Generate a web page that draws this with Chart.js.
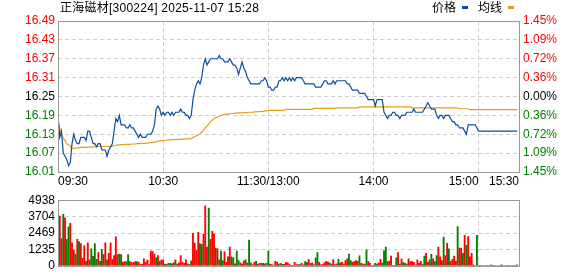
<!DOCTYPE html>
<html>
<head>
<meta charset="utf-8">
<script src="https://cdn.jsdelivr.net/npm/chart.js@4.4.1/dist/chart.umd.min.js"></script>
<style>
html, body { margin: 0; padding: 0; background: #fff; }
#wrap { position: relative; width: 578px; height: 276px; overflow: hidden; }
canvas { position: absolute; left: 0; }
#price { top: 0; }
#vol { top: 190px; }
</style>
</head>
<body>
<div id="wrap">
  <canvas id="price" width="578" height="190"></canvas>
  <canvas id="vol" width="578" height="86"></canvas>
</div>
<script>
const stockName = '正海磁材[300224]';
const stamp = '2025-11-07 15:28';
const prevClose = 16.25;
const priceTicks = [16.49, 16.43, 16.37, 16.31, 16.25, 16.19, 16.13, 16.07, 16.01];
const pctTicks = ['1.45%', '1.09%', '0.72%', '0.36%', '0.00%', '0.36%', '0.72%', '1.09%', '1.45%'];
const volTicks = [4938, 3704, 2469, 1235, 0];
// minute index: 0 = 09:30, 120 = 11:30/13:00, 240 = 15:00, then the after-hours session
const timeTicks = [0, 60, 120, 180, 240, 263];
const timeLabels = ['09:30', '10:30', '11:30/13:00', '14:00', '15:00', '15:30'];

const dayPrice = [
  16.19,16.12,16.14,16.07,16.06,16.05,16.03,16.04,16.10,16.13,
  16.11,16.10,16.10,16.12,16.12,16.12,16.11,16.14,16.14,16.12,
  16.10,16.10,16.09,16.10,16.10,16.08,16.08,16.08,16.06,16.08,
  16.09,16.10,16.14,16.18,16.17,16.19,16.16,16.16,16.16,16.15,
  16.15,16.16,16.15,16.15,16.14,16.13,16.12,16.13,16.12,16.12,
  16.12,16.13,16.13,16.13,16.14,16.16,16.21,16.22,16.21,16.19,
  16.20,16.19,16.20,16.20,16.19,16.20,16.19,16.20,16.20,16.20,
  16.21,16.20,16.20,16.19,16.19,16.18,16.19,16.24,16.27,16.29,
  16.30,16.29,16.31,16.35,16.37,16.35,16.36,16.37,16.37,16.37,
  16.37,16.37,16.38,16.37,16.37,16.36,16.36,16.36,16.37,16.36,
  16.35,16.35,16.34,16.32,16.34,16.36,16.34,16.33,16.31,16.30,
  16.29,16.29,16.29,16.29,16.29,16.29,16.30,16.30,16.31,16.30,
  16.28,16.28,16.27,16.27,16.28,16.28,16.30,16.30,16.31,16.30,
  16.31,16.30,16.31,16.30,16.31,16.30,16.31,16.31,16.31,16.31,
  16.30,16.29,16.29,16.29,16.29,16.29,16.29,16.28,16.28,16.28,
  16.28,16.29,16.30,16.30,16.29,16.29,16.29,16.30,16.29,16.30,
  16.30,16.30,16.30,16.30,16.30,16.29,16.29,16.28,16.27,16.27,
  16.27,16.27,16.26,16.26,16.26,16.26,16.25,16.24,16.24,16.24,
  16.24,16.22,16.24,16.24,16.24,16.24,16.20,16.19,16.18,16.19,
  16.19,16.20,16.20,16.19,16.19,16.18,16.19,16.19,16.19,16.20,
  16.20,16.20,16.20,16.21,16.20,16.20,16.20,16.20,16.20,16.21,
  16.22,16.23,16.22,16.21,16.21,16.21,16.19,16.18,16.19,16.19,
  16.18,16.19,16.19,16.19,16.18,16.17,16.17,16.16,16.16,16.15,
  16.15,16.15,16.14,16.13,16.16,16.16,16.16,16.16,16.16,16.15,
  16.14
];
const postPrice = [
  16.14,16.14,16.14,16.14,16.14,16.14,16.14,16.14,16.14,16.14,16.14,
  16.14,16.14,16.14,16.14,16.14,16.14,16.14,16.14,16.14,16.14,16.14
];

const dayAvg = [
  16.170,16.150,16.130,16.118,16.110,16.100,16.097,16.092,16.086,16.084,
  16.086,16.087,16.087,16.088,16.088,16.088,16.088,16.089,16.089,16.089,
  16.090,16.090,16.091,16.091,16.091,16.091,16.091,16.091,16.091,16.091,
  16.091,16.092,16.094,16.095,16.096,16.096,16.097,16.097,16.097,16.098,
  16.098,16.098,16.099,16.099,16.099,16.100,16.100,16.100,16.101,16.101,
  16.102,16.102,16.103,16.103,16.104,16.104,16.106,16.108,16.109,16.110,
  16.110,16.111,16.111,16.112,16.112,16.112,16.113,16.113,16.113,16.114,
  16.114,16.114,16.115,16.115,16.115,16.116,16.116,16.120,16.122,16.125,
  16.128,16.132,16.137,16.143,16.150,16.156,16.163,16.170,16.175,16.180,
  16.183,16.185,16.188,16.190,16.191,16.193,16.194,16.195,16.195,16.196,
  16.196,16.197,16.197,16.198,16.198,16.198,16.199,16.199,16.199,16.200,
  16.200,16.200,16.201,16.201,16.202,16.202,16.203,16.203,16.204,16.204,
  16.205,16.206,16.206,16.206,16.206,16.206,16.206,16.206,16.206,16.206,
  16.209,16.209,16.209,16.209,16.209,16.209,16.209,16.209,16.209,16.209,
  16.209,16.209,16.209,16.209,16.209,16.209,16.212,16.212,16.212,16.212,
  16.212,16.212,16.212,16.212,16.212,16.212,16.212,16.212,16.212,16.214,
  16.214,16.214,16.214,16.214,16.214,16.214,16.214,16.214,16.214,16.214,
  16.214,16.214,16.217,16.217,16.217,16.217,16.217,16.217,16.217,16.217,
  16.217,16.217,16.217,16.217,16.217,16.217,16.217,16.217,16.217,16.217,
  16.217,16.217,16.217,16.217,16.217,16.217,16.217,16.217,16.217,16.217,
  16.217,16.217,16.214,16.214,16.214,16.214,16.214,16.214,16.214,16.214,
  16.214,16.214,16.214,16.214,16.214,16.214,16.214,16.214,16.214,16.214,
  16.214,16.214,16.214,16.214,16.214,16.214,16.214,16.214,16.214,16.211,
  16.211,16.211,16.211,16.211,16.211,16.208,16.208,16.208,16.208,16.208,
  16.208
];
const postAvg = [
  16.208,16.208,16.208,16.208,16.208,16.208,16.208,16.208,16.208,16.208,16.208,
  16.208,16.208,16.208,16.208,16.208,16.208,16.208,16.208,16.208,16.208,16.208
];

const dayVolume = [
  0,
  3736,2046,3870,3603,2000,2935,3200,1735,1156,890,
  2000,1824,1668,556,1512,333,1735,445,1268,712,
  1668,489,1000,333,1223,845,1735,445,934,1735,
  489,778,2180,845,890,845,267,311,311,845,
  311,245,267,311,311,267,111,111,534,267,
  422,89,1112,1068,890,600,778,333,422,445,
  133,111,178,178,156,245,445,133,222,778,
  267,178,445,156,111,378,2446,1712,1179,2513,
  1668,1624,2380,4515,1400,4337,2000,2602,2380,1334,
  1268,445,1112,400,1045,267,667,1400,667,623,
  150,1112,400,222,133,378,445,222,1935,222,
  89,267,333,133,178,178,178,156,178,1112,
  133,89,60,333,267,133,178,111,111,267,
  222,133,44,44,267,89,89,89,178,67,
  311,267,489,178,222,67,600,1000,267,67,
  111,222,333,289,222,133,467,89,156,489,
  222,267,133,400,534,890,400,267,311,400,
  333,756,178,133,133,1200,333,178,44,44,
  178,133,222,489,222,1134,1401,311,356,734,
  44,44,600,1000,133,534,245,178,133,534,
  311,311,267,67,445,178,333,133,734,934,
  267,445,867,534,311,778,1401,667,400,2157,
  778,1690,1268,333,489,734,356,2958,1334,1334,
  934,2290,1535,2202,667,934,67,0,2290,0
];
// 1 = price up (red bar), 0 = price down (green bar)
const dayRise = [
  1,
  1,1,0,1,0,0,1,1,1,0,
  1,0,1,1,1,0,1,1,0,0,
  0,0,1,0,0,1,1,0,1,1,
  1,1,1,1,0,0,1,1,0,0,
  1,1,1,1,0,1,1,1,1,1,
  1,1,1,1,1,0,1,0,1,1,
  0,1,0,0,1,0,1,0,1,1,
  1,1,1,0,1,0,1,1,1,1,
  0,0,1,1,1,0,1,1,1,0,
  1,1,0,0,1,1,1,1,0,0,
  1,0,0,1,1,1,0,1,0,0,
  1,1,0,1,1,1,0,1,0,0,
  1,1,1,1,1,0,1,0,1,1,
  1,1,1,1,1,1,0,1,1,1,
  0,0,1,1,1,1,0,0,1,1,
  1,1,1,1,0,0,1,1,1,0,
  1,1,1,1,1,0,0,1,1,1,
  1,0,0,1,1,0,1,1,1,1,
  0,0,1,1,0,0,0,0,1,1,
  1,1,0,1,0,1,0,0,1,1,
  1,1,1,0,1,1,1,0,0,1,
  1,0,0,1,0,0,1,1,1,0,
  1,1,0,1,1,1,1,0,1,1,
  0,1,0,1,1,1,1,1,0,0
];
const postVolume = [0,0,0,0,0,0,67,0,0,0,0,0,67,0,0,0,0,0,0,0,0,67];
const postRise = [0,0,0,0,0,0,0,0,0,0,0,0,0,0,0,0,0,0,0,0,0,0];

const price = dayPrice.concat(postPrice);
const avg = dayAvg.concat(postAvg);
const volume = dayVolume.concat(postVolume);
const rise = dayRise.concat(postRise);
const minutes = price.map((_, i) => i);

const RED = '#ff0000', GREEN = '#008000', BLUE = '#0a4f9f', GOLD = '#e3a019';
const GRID = '#cfcfcf', FRAME = '#999999';
const FONT = '"Liberation Sans", Arial, sans-serif';

Chart.defaults.font.family = FONT;
Chart.defaults.font.size = 12;

const tickColor = v => v > prevClose + 1e-9 ? RED : (v < prevClose - 1e-9 ? GREEN : '#000');
const gridLines = { color: GRID, drawTicks: false, lineWidth: 1 };
const dashed = { display: false, dash: [4, 3] };

const frame = {
  id: 'frame',
  afterDraw(chart) {
    const { ctx, chartArea: a } = chart;
    ctx.save();
    ctx.strokeStyle = FRAME;
    ctx.lineWidth = 1;
    ctx.strokeRect(Math.round(a.left) + 0.5, Math.round(a.top) + 0.5,
      Math.round(a.right - a.left), Math.round(a.bottom - a.top));
    ctx.restore();
  }
};

const texts = {
  id: 'texts',
  afterDraw(chart) {
    const ctx = chart.ctx, x = chart.scales.x;
    ctx.save();
    ctx.font = '12px "Liberation Sans", "Noto Sans CJK SC", sans-serif';
    ctx.textBaseline = 'middle';
    ctx.fillStyle = '#000';
    ctx.letterSpacing = '0.25px';
    ctx.textAlign = 'left';
    ctx.fillText(stockName + ' ' + stamp, 60, 9);
    ctx.letterSpacing = '0px';
    // legend
    ctx.fillText('价格', 432, 9);
    ctx.fillStyle = BLUE;
    ctx.fillRect(462, 6, 6, 3);
    ctx.fillStyle = '#000';
    ctx.fillText('均线', 478, 9);
    ctx.fillStyle = GOLD;
    ctx.fillRect(508, 6, 6, 3);
    // time axis
    ctx.fillStyle = '#000';
    timeLabels.forEach((t, i) => {
      const px = x.getPixelForValue(timeTicks[i]);
      ctx.textAlign = i === 0 ? 'left' : (i >= timeLabels.length - 2 ? 'right' : 'center');
      ctx.fillText(t, px, 182);
    });
    ctx.restore();
  }
};

const xScale = {
  type: 'linear',
  min: timeTicks[0],
  max: timeTicks[timeTicks.length - 1],
  offset: false,
  afterBuildTicks: s => { s.ticks = timeTicks.slice(1, -1).map(v => ({ value: v })); },
  ticks: { display: false },
  grid: { ...gridLines, offset: false },
  border: dashed,
  afterFit: s => { s.height = 0; }
};

new Chart(document.getElementById('price'), {
  type: 'line',
  data: {
    labels: minutes,
    datasets: [
      { label: '价格', data: price, borderColor: BLUE, borderWidth: 1.2, pointRadius: 0, tension: 0 },
      { label: '均线', data: avg, borderColor: GOLD, borderWidth: 1.2, pointRadius: 0, tension: 0 }
    ]
  },
  options: {
    responsive: false,
    animation: false,
    devicePixelRatio: 1,
    layout: { padding: { top: 21, bottom: 18, left: 0, right: 0 } },
    plugins: { legend: { display: false }, tooltip: { enabled: false } },
    scales: {
      x: xScale,
      y: {
        position: 'left',
        min: priceTicks[priceTicks.length - 1],
        max: priceTicks[0],
        afterBuildTicks: s => { s.ticks = priceTicks.map(v => ({ value: v })); },
        ticks: {
          autoSkip: false,
          padding: 3,
          callback: (v, i) => priceTicks[i].toFixed(2),
          color: c => tickColor(priceTicks[c.index])
        },
        grid: gridLines,
        border: dashed,
        afterFit: s => { s.width = 58; }
      },
      yr: {
        position: 'right',
        min: priceTicks[priceTicks.length - 1],
        max: priceTicks[0],
        afterBuildTicks: s => { s.ticks = priceTicks.map(v => ({ value: v })); },
        ticks: {
          autoSkip: false,
          padding: 4,
          callback: (v, i) => pctTicks[i],
          color: c => tickColor(priceTicks[c.index])
        },
        grid: { display: false, drawTicks: false },
        border: { display: false },
        afterFit: s => { s.width = 59; }
      }
    }
  },
  plugins: [frame, texts]
});

new Chart(document.getElementById('vol'), {
  type: 'bar',
  data: {
    labels: minutes,
    datasets: [{
      label: '成交量',
      data: volume,
      backgroundColor: rise.map(r => r ? RED : GREEN),
      borderWidth: 0,
      barThickness: 1.2
    }]
  },
  options: {
    responsive: false,
    animation: false,
    devicePixelRatio: 1,
    layout: { padding: { top: 6, bottom: 6, left: 0, right: 59 } },
    plugins: { legend: { display: false }, tooltip: { enabled: false } },
    scales: {
      x: { ...xScale },
      y: {
        min: 0,
        max: volTicks[0],
        afterBuildTicks: s => { s.ticks = volTicks.map(v => ({ value: v })); },
        ticks: { autoSkip: false, padding: 3, color: '#000', callback: v => String(v) },
        grid: gridLines,
        border: dashed,
        afterFit: s => { s.width = 58; }
      }
    }
  },
  plugins: [frame]
});
</script>
</body>
</html>
